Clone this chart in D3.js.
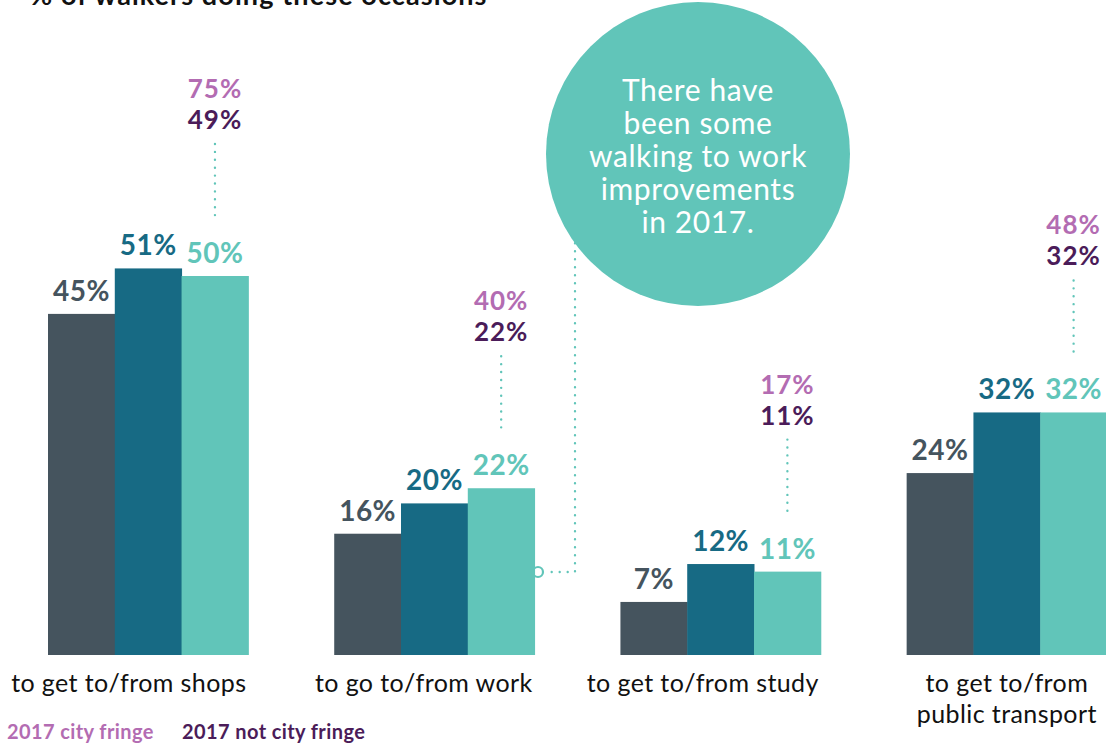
<!DOCTYPE html>
<html>
<head>
<meta charset="utf-8">
<script src="https://cdn.jsdelivr.net/npm/d3@7"></script>
<style>
  html, body { margin: 0; padding: 0; background: #fff; }
  svg { display: block; }
  text { font-family: Lato, "Open Sans", sans-serif; }
</style>
</head>
<body>
<svg id="chart" width="1106" height="744"></svg>
<script>
// ---- data ----
const categories = ["to get to/from shops", "to go to/from work", "to get to/from study", "to get to/from public transport"];
const categoryLines = [["to get to/from shops"], ["to go to/from work"], ["to get to/from study"], ["to get to/from", "public transport"]];
const seriesNames = ["series 1", "series 2", "2017"];
const series1 = [45, 16, 7, 24];
const series2 = [51, 20, 12, 32];
const series3 = [50, 22, 11, 32];
const cityFringe = [75, 40, 17, 48];
const notCityFringe = [49, 22, 11, 32];
const titleText = "% of walkers doing these occasions";
const legendLabels = ["2017 city fringe", "2017 not city fringe"];
const calloutLines = ["There have", "been some", "walking to work", "improvements", "in 2017."];

// ---- styles ----
const seriesColors = ["#45545e", "#176a84", "#61c5b9"];
const pink = "#b36cb2";
const purple = "#4b1c59";
const mint = "#61c5b9";

const svg = d3.select("#chart");
const baseY = 655;

const x = d3.scaleBand().domain(categories).range([48, 1107]).paddingInner(0.3).paddingOuter(0);
const xs = d3.scaleBand().domain(seriesNames).range([0, x.bandwidth()]);
const y = d3.scaleLinear().domain([0, 100]).range([baseY, baseY - 758]);

const allSeries = [series1, series2, series3];
const rows = categories.map((c, i) => ({
  cat: c, i,
  vals: allSeries.map((s, k) => ({ name: seriesNames[k], v: s[i], k }))
}));

// title (cut off at top edge, as in the reference)
svg.append("text").attr("x", 30).attr("y", 5)
  .attr("font-size", 27).attr("font-weight", 700).attr("letter-spacing", 1.1).attr("fill", "#111")
  .text(titleText);

// callout circle
const cx = 698, cy = 154, r = 152;
const leaderX = 575, leaderY = 572;
svg.append("path")
  .attr("d", `M${leaderX},${cy + Math.sqrt(r*r - (leaderX-cx)*(leaderX-cx))} L${leaderX},${leaderY} L${544},${leaderY}`)
  .attr("fill", "none").attr("stroke", mint).attr("stroke-width", 2.4)
  .attr("stroke-linecap", "round").attr("stroke-dasharray", "0,8");
svg.append("circle").attr("cx", 538).attr("cy", leaderY).attr("r", 5)
  .attr("fill", "#fff").attr("stroke", mint).attr("stroke-width", 2.2);

svg.append("circle").attr("cx", cx).attr("cy", cy).attr("r", r).attr("fill", mint);
svg.append("g").selectAll("text").data(calloutLines).join("text")
  .attr("x", cx).attr("y", (d, i) => 101 + i * 33)
  .attr("text-anchor", "middle").attr("font-size", 30).attr("letter-spacing", 0.6).attr("fill", "#fff")
  .text(d => d);

// groups
const g = svg.append("g").selectAll("g").data(rows).join("g")
  .attr("transform", d => `translate(${x(d.cat)},0)`);

g.selectAll("rect").data(d => d.vals).join("rect")
  .attr("x", d => xs(d.name)).attr("y", d => y(d.v))
  .attr("width", xs.bandwidth() + 0.5).attr("height", d => baseY - y(d.v))
  .attr("fill", d => seriesColors[d.k]);

g.selectAll("text.val").data(d => d.vals).join("text").attr("class", "val")
  .attr("x", d => xs(d.name) + xs.bandwidth() / 2).attr("y", d => y(d.v) - 13)
  .attr("text-anchor", "middle").attr("font-size", 28).attr("font-weight", 700).attr("letter-spacing", 0.5)
  .attr("fill", d => seriesColors[d.k])
  .text(d => d.v + "%");

// annotations above third bar
const ann = g.append("g")
  .attr("transform", d => `translate(${xs(seriesNames[2]) + xs.bandwidth() / 2},${y(series3[d.i])})`);
ann.append("line").attr("x1", 0).attr("x2", 0).attr("y1", -132).attr("y2", -53)
  .attr("stroke", mint).attr("stroke-width", 2.4).attr("stroke-linecap", "round")
  .attr("stroke-dasharray", "0,7.9");
ann.append("text").attr("y", -147).attr("text-anchor", "middle")
  .attr("font-size", 26).attr("font-weight", 700).attr("letter-spacing", 1).attr("fill", purple)
  .text(d => notCityFringe[d.i] + "%");
ann.append("text").attr("y", -178).attr("text-anchor", "middle")
  .attr("font-size", 26).attr("font-weight", 700).attr("letter-spacing", 1).attr("fill", pink)
  .text(d => cityFringe[d.i] + "%");

// category labels
g.each(function(d) {
  const lines = categoryLines[d.i];
  const t = d3.select(this).append("text")
    .attr("font-size", 25).attr("letter-spacing", 0.4).attr("fill", "#111");
  if (lines.length === 1) {
    t.attr("text-anchor", "end").attr("x", x.bandwidth() - 2).attr("y", 692).text(lines[0]);
  } else {
    t.attr("text-anchor", "middle");
    lines.forEach((l, j) => t.append("tspan").attr("x", x.bandwidth() / 2).attr("y", 692 + j * 31).text(l));
  }
});

// legend
const legend = svg.append("g");
legend.append("text").attr("x", 7).attr("y", 739).attr("font-size", 20).attr("font-weight", 700)
  .attr("letter-spacing", 0.4).attr("fill", pink).text(legendLabels[0]);
legend.append("text").attr("x", 182).attr("y", 739).attr("font-size", 20).attr("font-weight", 700)
  .attr("letter-spacing", 0.4).attr("fill", purple).text(legendLabels[1]);
</script>
</body>
</html>
